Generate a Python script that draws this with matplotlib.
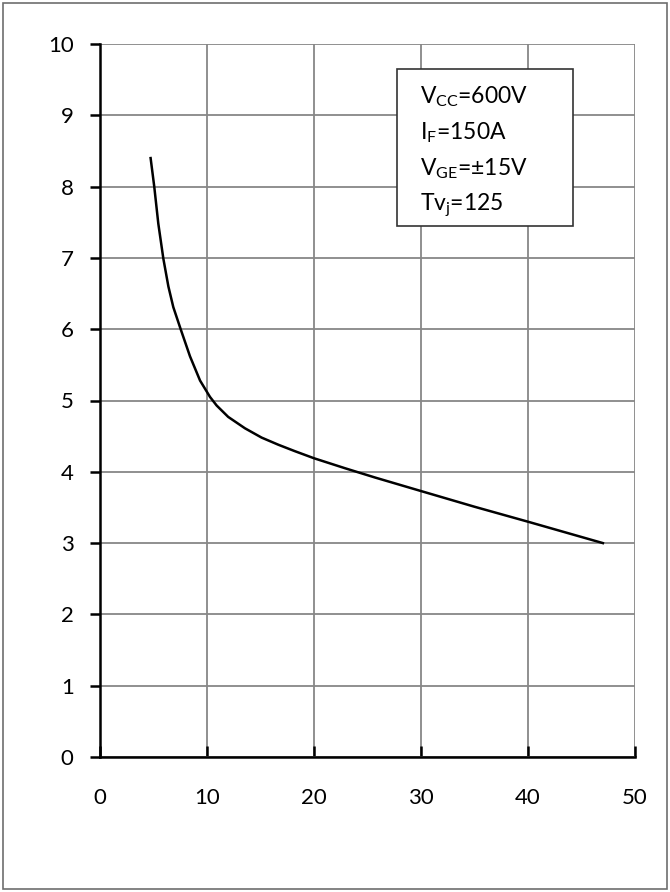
import numpy as np
import matplotlib.pyplot as plt
from matplotlib.patches import Rectangle

plt.rcParams['font.family'] = ['Lato', 'DejaVu Sans']
plt.rcParams['mathtext.fontset'] = 'custom'
plt.rcParams['mathtext.rm'] = 'Lato'
plt.rcParams['mathtext.it'] = 'Lato'

# curve
x_vals = [4.73, 5.07, 5.45, 5.92, 6.39, 6.85, 7.54, 8.41, 9.35, 10.28, 10.9,
          11.98, 13.55, 15.1, 16.66, 18.2, 20.0, 22.9, 25.7, 30.0, 35.0, 40.0, 47.0]
y_vals = [8.40, 8.00, 7.48, 6.99, 6.60, 6.31, 6.00, 5.62, 5.28, 5.05, 4.93,
          4.77, 4.61, 4.48, 4.38, 4.29, 4.19, 4.05, 3.92, 3.73, 3.51, 3.30, 3.00]

x_ticks = [0, 10, 20, 30, 40, 50]
y_ticks = list(range(0, 11))
legend_lines = [r'V$_{\mathrm{CC}}$=600V', r'I$_{\mathrm{F}}$=150A',
                r'V$_{\mathrm{GE}}$=±15V', r'Tv$_{\mathrm{j}}$=125']

fig = plt.figure(figsize=(6.7, 8.92), dpi=100)
ax = fig.add_axes([100 / 670, 1 - 757 / 892, 535 / 670, 713 / 892])

ax.plot(x_vals, y_vals, color='black', lw=1.8, solid_joinstyle='round')

ax.set_xlim(0, 50)
ax.set_ylim(0, 10)
ax.set_xticks(x_ticks)
ax.set_yticks(y_ticks)
ax.grid(True, color='#878787', lw=1.3)
ax.set_axisbelow(True)
for s in ['top', 'right']:
    ax.spines[s].set_visible(False)
for s in ['left', 'bottom']:
    ax.spines[s].set_linewidth(1.8)
ax.tick_params(axis='y', direction='out', length=7, width=1.8, labelsize=16, pad=12)
ax.tick_params(axis='x', direction='in', length=8, width=1.8, labelsize=16, pad=22)

# parameter box
bx0, by0, bw, bh = 397 / 670, 1 - 226 / 892, 176 / 670, 157 / 892
fig.patches.append(Rectangle((bx0, by0), bw, bh, transform=fig.transFigure,
                             facecolor='white', edgecolor='#333333', lw=1.2, zorder=5))
for i, t in enumerate(legend_lines):
    fig.text(420 / 670, 1 - (97 + i * 36) / 892, t, fontsize=16.5, va='center',
             ha='left', zorder=6)

# outer border
fig.patches.append(Rectangle((3 / 670, 3 / 892), 664 / 670, 886 / 892,
                             transform=fig.transFigure, fill=False,
                             edgecolor='#6e6e6e', lw=1.2))

plt.savefig('out.png', dpi=100)
